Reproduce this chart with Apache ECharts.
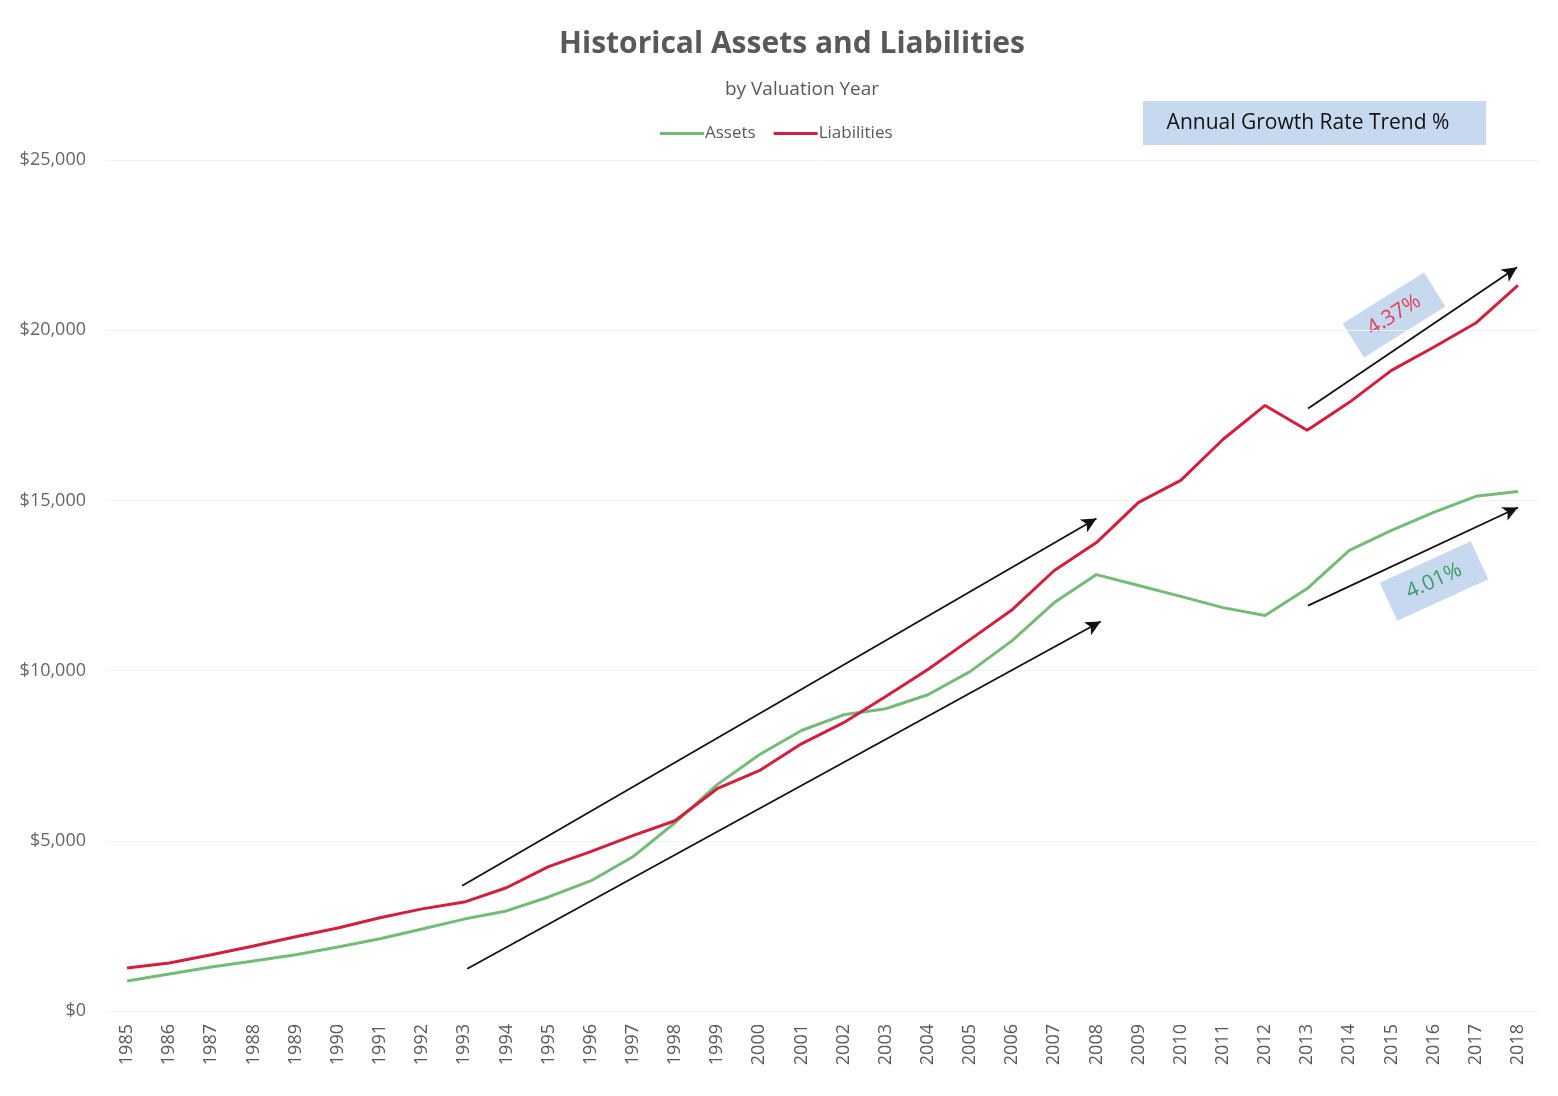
<!DOCTYPE html>
<html>
<head>
<meta charset="utf-8">
<script src="https://cdn.jsdelivr.net/npm/echarts@6/dist/echarts.min.js"></script>
<style>
  html, body { margin: 0; padding: 0; background: #fff; }
  #chart { width: 1558px; height: 1096px; }
</style>
</head>
<body>
<div id="chart"></div>
<script>
// data
const years = [];
for (let y = 1985; y <= 2018; y++) years.push(String(y));

const assets = [880, 1090, 1290, 1470, 1650, 1880, 2120, 2410, 2700, 2940,
  3350, 3820, 4530, 5530, 6650, 7530, 8240, 8700, 8880, 9290,
  9970, 10880, 12000, 12820, 12500, 12180, 11850, 11620, 12410, 13530,
  14120, 14650, 15120, 15260];

const liabilities = [1260, 1410, 1650, 1910, 2180, 2440, 2740, 3000, 3200, 3620,
  4240, 4680, 5150, 5590, 6530, 7060, 7850, 8470, 9240, 10030,
  10910, 11790, 12940, 13760, 14940, 15590, 16790, 17790, 17060, 17880,
  18820, 19500, 20210, 21320];

// trend arrows: [fromYear, fromValue, toYear, toValue]
const trendArrows = [
  [1992.95, 3680, 2008.0, 14470],
  [1993.07, 1240, 2008.1, 11440],
  [2013.02, 17700, 2017.98, 21850],
  [2013.02, 11910, 2018.0, 14790]
];

const yTicks = [0, 5000, 10000, 15000, 20000, 25000];

const GREEN = '#74bb78';
const RED = '#d11f3d';
const FONT = '"Open Sans", "Noto Sans", sans-serif';

const chart = echarts.init(document.getElementById('chart'));

const options = {
  animation: false,
  backgroundColor: '#fff',
  title: [
    {
      text: 'Historical Assets and Liabilities',
      left: 787, top: 24, textAlign: 'center',
      textStyle: { fontFamily: FONT, fontSize: 30, fontWeight: 'bold', color: '#595959' }
    },
    {
      text: 'by Valuation Year',
      left: 797, top: 75, textAlign: 'center',
      textStyle: { fontFamily: FONT, fontSize: 19, fontWeight: 'normal', color: '#595959' }
    }
  ],
  legend: {
    top: 120,
    left: 655,
    icon: 'rect',
    itemWidth: 44,
    itemHeight: 3,
    itemGap: 18,
    textStyle: { fontFamily: FONT, fontSize: 17, color: '#595959', padding: [0, 0, 0, -4] },
    data: ['Assets', 'Liabilities']
  },
  grid: { left: 106, right: 19, top: 160, bottom: 85 },
  xAxis: [
    {
      type: 'category',
      data: years,
      boundaryGap: true,
      axisLine: { show: false },
      axisTick: { show: false },
      axisLabel: {
        rotate: 90, interval: 0, margin: 13,
        fontFamily: FONT, fontSize: 18, color: '#595959'
      }
    },
    {
      type: 'value', min: 1984.5, max: 2018.5, show: false
    }
  ],
  yAxis: {
    type: 'value',
    min: yTicks[0],
    max: yTicks[yTicks.length - 1],
    interval: 5000,
    axisLine: { show: false },
    axisTick: { show: false },
    splitLine: { lineStyle: { color: '#f2f2f2', width: 1 } },
    axisLabel: {
      margin: 20,
      fontFamily: FONT, fontSize: 18, color: '#666',
      formatter: v => '$' + v.toLocaleString('en-US')
    }
  },
  series: [
    {
      name: 'Assets', type: 'line', data: assets,
      symbol: 'none', color: GREEN,
      lineStyle: { width: 3, color: GREEN }
    },
    {
      name: 'Liabilities', type: 'line', data: liabilities,
      symbol: 'none', color: RED,
      lineStyle: { width: 3, color: RED }
    },
    {
      name: 'trend', type: 'line', xAxisIndex: 1, data: [],
      silent: true,
      markLine: {
        silent: true,
        symbol: ['none', 'arrow'],
        symbolSize: [11, 15],
        label: { show: false },
        lineStyle: { color: '#111', width: 1.8, type: 'solid' },
        data: trendArrows.map(a => [{ coord: [a[0], a[1]] }, { coord: [a[2], a[3]] }])
      }
    }
  ],
  graphic: [
    {
      type: 'group', left: 1143, top: 101,
      children: [
        { type: 'rect', shape: { x: 0, y: 0, width: 343, height: 44 }, style: { fill: '#c6d9ee' } },
        {
          type: 'text', x: 165, y: 22,
          style: { text: 'Annual Growth Rate Trend %', fill: '#111', fontFamily: FONT, fontSize: 21, align: 'center', verticalAlign: 'middle' }
        }
      ]
    },
    {
      type: 'group', x: 1394, y: 315, rotation: 32 * Math.PI / 180,
      children: [
        { type: 'rect', shape: { x: -48, y: -20, width: 96, height: 40 }, style: { fill: '#c6d9ee' } },
        {
          type: 'text', x: 0, y: 0,
          style: { text: '4.37%', fill: '#e0405a', fontFamily: FONT, fontSize: 21, align: 'center', verticalAlign: 'middle' }
        }
      ]
    },
    {
      type: 'group', x: 1434, y: 581, rotation: 24.5 * Math.PI / 180,
      children: [
        { type: 'rect', shape: { x: -50, y: -21, width: 100, height: 42 }, style: { fill: '#c6d9ee' } },
        {
          type: 'text', x: 0, y: 0,
          style: { text: '4.01%', fill: '#3d9a6a', fontFamily: FONT, fontSize: 21, align: 'center', verticalAlign: 'middle' }
        }
      ]
    }
  ]
};

chart.setOption(options);
</script>
</body>
</html>
